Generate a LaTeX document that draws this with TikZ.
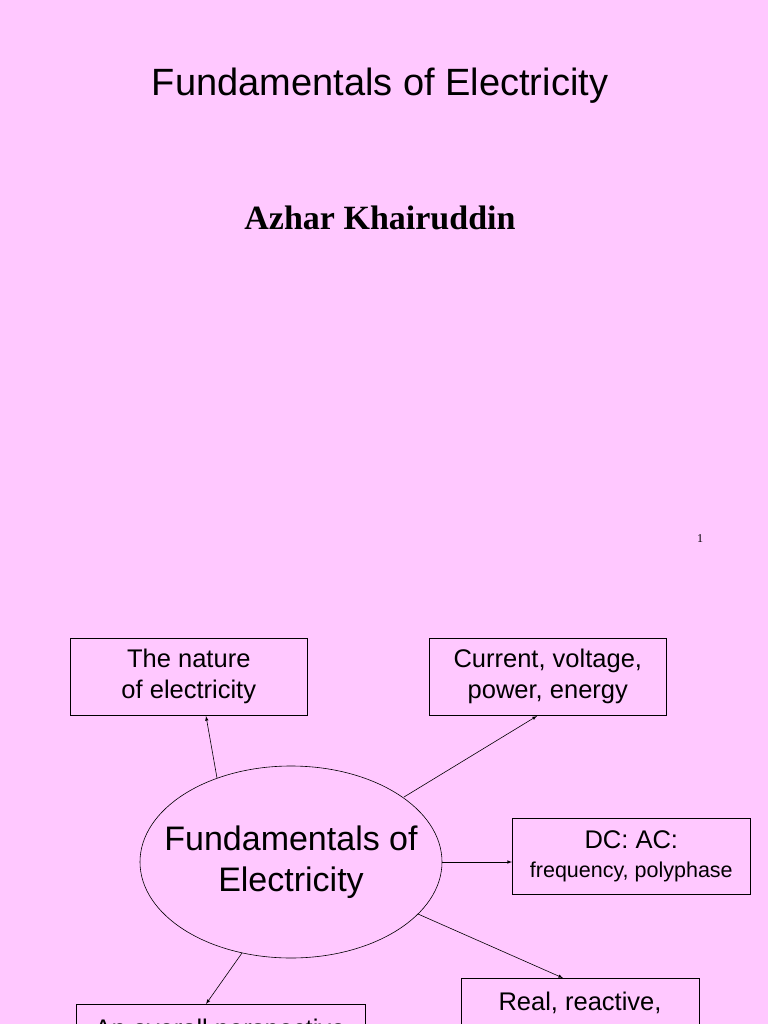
\documentclass[tikz,border=0pt]{standalone}
\usepackage{fontspec}
\setmainfont{Liberation Sans}
\newfontfamily\seriffont{Liberation Serif}
\usetikzlibrary{shapes.geometric}
\definecolor{bg}{RGB}{255,200,255}
\begin{document}
\begin{tikzpicture}[x=1pt,y=-1pt,
  box/.style={draw,line width=0.6pt,minimum width=237pt,minimum height=77pt,anchor=north west,inner sep=0pt,align=center,font=\fontsize{25.5}{31}\selectfont},
  arr/.style={-latex,line width=0.6pt}]
\useasboundingbox (0,0) rectangle (768,1024);
\clip (0,0) rectangle (768,1024);
\fill[bg] (0,0) rectangle (768,1024);
\node (title) at (380,86) {\fontsize{38}{44}\selectfont Fundamentals of Electricity};
\node (author) at (380,218) {\seriffont\bfseries\fontsize{34}{40}\selectfont Azhar Khairuddin};
\node (pg) at (700,539) {\seriffont\fontsize{12}{14}\selectfont 1};
\node[box] (nat) at (70,638) {The nature\\of electricity};
\node[box,minimum width=238pt,minimum height=76pt] (dc) at (512,818) {DC: AC:\\[-2pt]{\fontsize{21.5}{26}\selectfont frequency, polyphase}};
\node[box] (cur) at (429,638) {Current, voltage,\\power, energy};
\node[box,minimum width=238pt,minimum height=100pt] (real) at (461,978) {};
\node (realt) at (580,1003) {\fontsize{25.5}{31}\selectfont Real, reactive,};
\node[box,minimum width=289pt,minimum height=100pt] (ov) at (76,1004) {};
\node (ovt) at (220,1031) {\fontsize{25.5}{31}\selectfont An overall perspective};
\node[draw,ellipse,line width=0.6pt,minimum width=302pt,minimum height=192pt,inner sep=0pt] (fe) at (291,862) {};
\node[align=center,font=\fontsize{34}{41}\selectfont] (fet) at (fe.center) {Fundamentals of\\Electricity};
\coordinate (a1) at (217,778); \coordinate (b1) at (206,716);
\coordinate (a2) at (404,797); \coordinate (b2) at (537,716);
\coordinate (a3) at (442,862); \coordinate (b3) at (512,862);
\coordinate (a4) at (418,914); \coordinate (b4) at (563,978);
\coordinate (a5) at (242,953); \coordinate (b5) at (206,1004);
\draw[arr] (a1) -- (b1);
\draw[arr] (a2) -- (b2);
\draw[arr] (a3) -- (b3);
\draw[arr] (a4) -- (b4);
\draw[arr] (a5) -- (b5);
\end{tikzpicture}
\end{document}
